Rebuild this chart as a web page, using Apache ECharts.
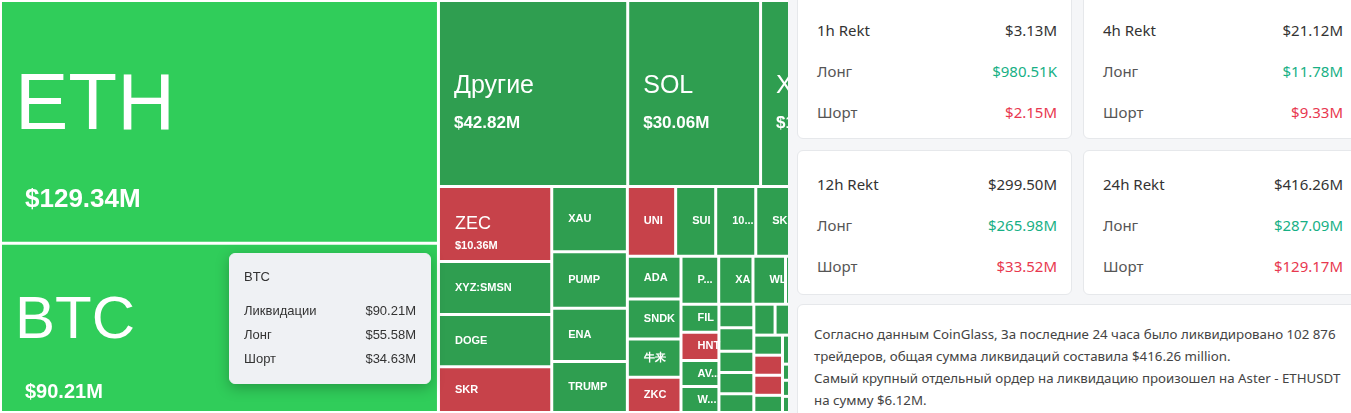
<!DOCTYPE html>
<html lang="ru">
<head>
<meta charset="UTF-8">
<script src="https://cdn.jsdelivr.net/npm/echarts@6/dist/echarts.min.js"></script>
<style>
  body { margin: 0; width: 1351px; height: 413px; overflow: hidden; font-family: "Noto Sans", sans-serif; background: #f5f6f8; }
  #wrap { position: absolute; left: 0; top: 0; width: 788px; height: 413px; overflow: hidden; background: #fff; }
  #map { width: 834px; height: 413px; }
  #side { position: absolute; left: 797px; top: 0; width: 560px; height: 413px; }
  .card { position: absolute; background: #fff; border: 1px solid #e6e8eb; border-radius: 6px; box-sizing: border-box; }
  .row { position: absolute; left: 19px; right: 14px; display: flex; justify-content: space-between; font-size: 15px; color: #555; }
  .row.head { color: #333; }
  .row .v { color: #333; }
  .g { color: #17b085 !important; }
  .r { color: #e8384f !important; }
  .note { padding: 18px 0 0 16px; font-size: 13.3px; line-height: 22px; color: #444; }
</style>
</head>
<body>
<div id="wrap"><div id="map"></div></div>
<div id="side"></div>
<script>
// treemap data
var coins = ['ETH', 'BTC', 'Другие', 'SOL', 'XRP', 'ZEC', 'XYZ:SMSN', 'DOGE', 'SKR',
  'XAU', 'PUMP', 'ENA', 'TRUMP', 'HYPE', 'UNI', '1000PEPE', 'SUI', 'SKY', 'ADA', '牛来',
  'SNDK', 'ZKC', 'PEPE', 'XAG', 'WLFI', 'PROM', 'HNT', 'FIL', 'ZORA', 'LINK', 'WLD', 'AVAX',
  'NEAR', 'BTR', 'LTC', 'AAVE', 'KORA', 'XYZ:TSLA', 'CL', 'AIA', 'ETC', 'BNB', 'TAO', 'ARB',
  'OP', 'APT', 'TON', 'DOT', 'BCH', 'TIA', 'INJ', 'SEI'];
var totals = [129.34, 90.21, 42.82, 30.06, 16.5, 10.36, 7.3, 7.2, 6.3,
  6.0, 5.2, 4.9, 4.7, 3.3, 4.1, 3.4, 3.4, 3.3, 2.8, 2.5,
  2.6, 2.3, 2.2, 2.0, 1.9, 1.5, 1.3, 1.3, 1.3, 1.0, 1.2, 1.2,
  1.0, 0.9, 0.9, 0.8, 0.8, 0.8, 0.7, 0.7, 0.7, 0.7, 0.7, 0.6,
  0.6, 0.6, 0.6, 0.6, 0.6, 0.6, 0.6, 0.6];
var redCoins = ['ZEC', 'SKR', 'UNI', 'ZKC', 'HNT', 'ZORA', 'CL', 'AIA'];
var brightCoins = ['ETH', 'BTC'];

// tooltip for BTC
var tipLabels = ['Ликвидации', 'Лонг', 'Шорт'];
var btcTip = ['$90.21M', '$55.58M', '$34.63M'];

// side cards
var periods = ['1h Rekt', '4h Rekt', '12h Rekt', '24h Rekt'];
var periodTotal = ['$3.13M', '$21.12M', '$299.50M', '$416.26M'];
var periodLong = ['$980.51K', '$11.78M', '$265.98M', '$287.09M'];
var periodShort = ['$2.15M', '$9.33M', '$33.52M', '$129.17M'];

function fmt(v) { return '$' + v.toFixed(2) + 'M'; }

var nodes = coins.map(function (c, i) {
  var v = totals[i];
  var color = brightCoins.indexOf(c) >= 0 ? '#30cd5a' : (redCoins.indexOf(c) >= 0 ? '#c7424a' : '#2f9e50');
  var label;
  if (c === 'ETH') {
    label = { position: [8, 50], formatter: '{a|{b}}\n{b|' + fmt(v) + '}',
      rich: { a: { fontSize: 80, color: '#fff', lineHeight: 100 }, b: { fontSize: 26, color: '#fff', fontWeight: 600, lineHeight: 86, padding: [0, 0, 0, 10] } } };
  } else if (c === 'BTC') {
    label = { position: [8, 36], formatter: '{a|{b}}\n{b|' + fmt(v) + '}',
      rich: { a: { fontSize: 60, color: '#fff', lineHeight: 72 }, b: { fontSize: 20, color: '#fff', fontWeight: 600, lineHeight: 70, padding: [0, 0, 0, 10] } } };
  } else if (v > 15) {
    label = { position: [9, 60], formatter: '{a|{b}}\n{b|' + fmt(v) + '}',
      rich: { a: { fontSize: 25, color: '#fff', lineHeight: 38 }, b: { fontSize: 17, color: '#fff', fontWeight: 600, lineHeight: 36 } } };
  } else if (v > 10) {
    label = { position: [10, 18], formatter: '{a|{b}}\n{b|' + fmt(v) + '}',
      rich: { a: { fontSize: 18, color: '#fff', lineHeight: 26 }, b: { fontSize: 11, color: '#fff', fontWeight: 700, lineHeight: 18 } } };
  } else {
    label = { position: [10, '50%'], verticalAlign: 'middle', align: 'left', formatter: '{b}', fontSize: 11, fontWeight: 700, color: '#fff' };
  }
  return { name: c, value: v, itemStyle: { color: color }, label: label };
});

var chart = echarts.init(document.getElementById('map'));
chart.setOption({
  animation: false,
  tooltip: {
    trigger: 'item',
    triggerOn: 'none',
    alwaysShowContent: true,
    position: function () { return [229, 253]; },
    backgroundColor: '#eff1f4',
    borderColor: '#eff1f4',
    borderRadius: 6,
    padding: [12, 14],
    extraCssText: 'width:172px;box-shadow:0 4px 14px rgba(0,0,0,0.25);',
    formatter: function (p) {
      var s = '<div style="font-size:13px;color:#333;margin-bottom:12px">' + p.name + '</div>';
      tipLabels.forEach(function (l, i) {
        s += '<div style="display:flex;justify-content:space-between;font-size:13px;color:#333;line-height:24px"><span>' + l + '</span><span>' + btcTip[i] + '</span></div>';
      });
      return s;
    }
  },
  series: [{
    type: 'treemap',
    left: 0, top: 0, right: 0, bottom: 0,
    roam: false,
    nodeClick: false,
    breadcrumb: { show: false },
    itemStyle: { borderColor: '#fff', borderWidth: 1, gapWidth: 1 },
    label: { show: true, color: '#fff' },
    data: nodes
  }]
});
chart.dispatchAction({ type: 'showTip', seriesIndex: 0, dataIndex: 2 });

// side cards
var side = document.getElementById('side');
var pos = [[0, -20], [286, -20], [0, 150], [286, 150]];
periods.forEach(function (p, i) {
  var d = document.createElement('div');
  d.className = 'card';
  d.style.left = pos[i][0] + 'px';
  d.style.top = pos[i][1] + 'px';
  d.style.width = '275px';
  d.style.height = (i < 2 ? 159 : 145) + 'px';
  var off = i < 2 ? 39 : 23;
  d.innerHTML =
    '<div class="row head" style="top:' + off + 'px"><span>' + p + '</span><span class="v">' + periodTotal[i] + '</span></div>' +
    '<div class="row" style="top:' + (off + 41) + 'px"><span>Лонг</span><span class="g">' + periodLong[i] + '</span></div>' +
    '<div class="row" style="top:' + (off + 82) + 'px"><span>Шорт</span><span class="r">' + periodShort[i] + '</span></div>';
  side.appendChild(d);
});
var n = document.createElement('div');
n.className = 'card';
n.style.cssText = 'left:0;top:304px;width:570px;height:120px;';
n.innerHTML = '<div class="note">Согласно данным CoinGlass, За последние 24 часа было ликвидировано 102 876<br>трейдеров, общая сумма ликвидаций составила $416.26 million.<br>Самый крупный отдельный ордер на ликвидацию произошел на Aster - ETHUSDT<br>на сумму $6.12M.</div>';
side.appendChild(n);
</script>
</body>
</html>
